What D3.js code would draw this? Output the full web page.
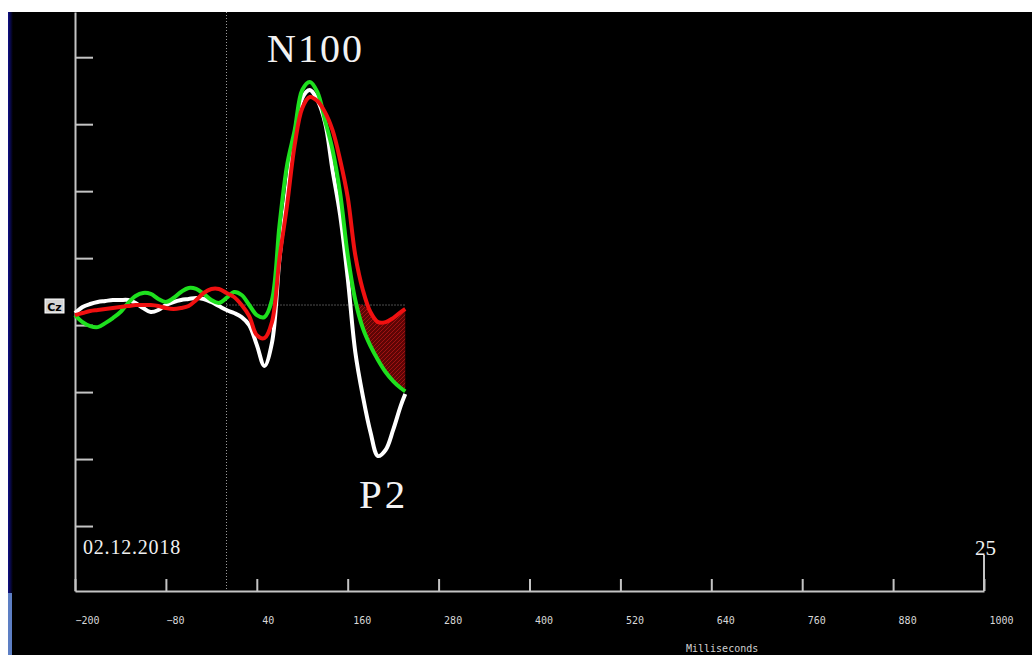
<!DOCTYPE html>
<html>
<head>
<meta charset="utf-8">
<script src="https://cdn.jsdelivr.net/npm/d3@7"></script>
<style>
  body { margin: 0; background: #fff; }
  svg { display: block; }
</style>
</head>
<body>
<div id="chart"></div>
<script>
// time points (ms) shared by all three traces
const times = [-200, -190, -180, -170, -160, -150, -140, -130, -120, -110, -100, -90, -80, -70, -60, -50, -40, -30, -20, -10,
  0, 10, 20, 30, 40, 50, 60, 70, 80, 90, 100, 110, 120, 130, 140, 150, 160, 170, 180, 190, 200, 210, 220, 230, 236];

// amplitude values (negative = up)
const whiteVals = [0.24, 0.06, -0.03, -0.09, -0.12, -0.15, -0.15, -0.15, -0.06, 0.09, 0.21, 0.15, 0, -0.09, -0.15, -0.18, -0.21, -0.18, -0.09, 0.03,
  0.15, 0.24, 0.36, 0.6, 1.19, 1.82, 1.13, -1.40, -3.28, -5.07, -6.18, -6.42, -6.12, -5.46, -4.03, -2.69, -0.81, 1.40, 2.72, 3.79, 4.51, 4.33, 3.73, 3.01, 2.66];
const greenVals = [0.30, 0.51, 0.63, 0.66, 0.54, 0.39, 0.21, -0.06, -0.27, -0.36, -0.33, -0.18, -0.09, -0.21, -0.39, -0.51, -0.48, -0.33, -0.15, -0.06,
  -0.21, -0.39, -0.30, 0, 0.30, 0.36, -0.15, -2.39, -4.18, -5.22, -6.42, -6.66, -6.36, -5.52, -4.63, -3.34, -1.49, -0.15, 0.69, 1.22, 1.64, 2.00, 2.27, 2.48, 2.58];
const redVals = [0.30, 0.24, 0.18, 0.15, 0.12, 0.09, 0.06, 0.03, 0, 0, 0, 0.03, 0.09, 0.12, 0.09, 0.03, -0.15, -0.36, -0.48, -0.48,
  -0.36, -0.24, 0, 0.33, 0.90, 0.99, 0.51, -1.40, -2.99, -4.78, -5.88, -6.21, -6.09, -5.76, -5.22, -4.33, -3.22, -1.49, -0.45, 0.21, 0.51, 0.51, 0.39, 0.21, 0.12];

const xTicks = [-200, -80, 40, 160, 280, 400, 520, 640, 760, 880, 1000];
const yTicks = [-7.4, -5.4, -3.4, -1.4, 0.6, 2.6, 4.6, 6.6];
const fillStart = 170; // shaded window start (ms)

const width = 1032, height = 655;

const svg = d3.select('#chart').append('svg')
  .attr('width', width)
  .attr('height', height);

// black panel + left strips
svg.append('rect').attr('x', 8).attr('y', 12).attr('width', width - 8).attr('height', height - 12).attr('fill', '#000');
const grad = svg.append('defs').append('linearGradient').attr('id', 'edge').attr('x1', 0).attr('x2', 1);
grad.append('stop').attr('offset', 0).attr('stop-color', '#10108a');
grad.append('stop').attr('offset', 1).attr('stop-color', '#000');
svg.append('rect').attr('x', 8).attr('y', 12).attr('width', 5).attr('height', 581).attr('fill', 'url(#edge)');
svg.append('rect').attr('x', 8).attr('y', 593).attr('width', 4).attr('height', 62).attr('fill', '#5d7fc4');

// hatch pattern for the shaded area
const pat = svg.select('defs').append('pattern')
  .attr('id', 'hatch')
  .attr('patternUnits', 'userSpaceOnUse')
  .attr('width', 4).attr('height', 4);
pat.append('rect').attr('width', 4).attr('height', 4).attr('fill', '#5e0505');
pat.append('path').attr('d', 'M0,4 L4,0').attr('stroke', '#a01212').attr('stroke-width', 1);

const x = d3.scaleLinear().domain([-200, 1000]).range([75, 984]);
const y = d3.scaleLinear().domain([-8.75, 8.54]).range([12, 591]);

// y axis (ticks pointing right, no labels)
const yAxis = svg.append('g')
  .attr('transform', `translate(${x(-200)},0)`)
  .call(d3.axisRight(y).tickValues(yTicks).tickSize(18).tickSizeOuter(0).tickFormat(''));
yAxis.select('.domain').attr('stroke', '#c4c4c4').attr('stroke-width', 2);
yAxis.selectAll('.tick line').attr('stroke', '#c4c4c4').attr('stroke-width', 2);

// x axis (ticks pointing up)
const xAxis = svg.append('g')
  .attr('transform', `translate(0,${y.range()[1]})`)
  .call(d3.axisBottom(x).tickValues(xTicks).tickSize(-12).tickSizeOuter(0).tickFormat(d3.format('d')));
xAxis.select('.domain').attr('stroke', '#c4c4c4').attr('stroke-width', 2);
xAxis.selectAll('.tick line').attr('stroke', '#c4c4c4').attr('stroke-width', 2);
xAxis.selectAll('.tick text')
  .attr('fill', '#d8d8d8')
  .attr('y', 33)
  .attr('dy', 0)
  .attr('x', d => d < 0 ? 0 : 5)
  .attr('text-anchor', 'start')
  .style('font-family', 'DejaVu Sans Mono, monospace')
  .style('font-size', '10px');

// right end marker
svg.append('line')
  .attr('x1', x(1000)).attr('x2', x(1000))
  .attr('y1', 555).attr('y2', y.range()[1])
  .attr('stroke', '#c4c4c4').attr('stroke-width', 2);

svg.append('text')
  .attr('x', 686).attr('y', 652)
  .attr('fill', '#d0d0d0')
  .style('font-family', 'DejaVu Sans Mono, monospace')
  .style('font-size', '10px')
  .text('Milliseconds');

// dotted reference lines
svg.append('line')
  .attr('x1', x(0)).attr('x2', x(0))
  .attr('y1', 12).attr('y2', y.range()[1])
  .attr('stroke', '#9a9a9a').attr('stroke-width', 1).attr('stroke-dasharray', '1,2');
svg.append('line')
  .attr('x1', x(0)).attr('x2', x(d3.max(times)))
  .attr('y1', y(0)).attr('y2', y(0))
  .attr('stroke', '#9a9a9a').attr('stroke-width', 1).attr('stroke-dasharray', '1,2');

// channel label
svg.append('rect').attr('x', 45).attr('y', 299).attr('width', 19).attr('height', 14)
  .attr('fill', '#d4d4d4').attr('stroke', '#fff').attr('stroke-width', 1);
svg.append('text')
  .attr('x', 54.5).attr('y', 310.5)
  .attr('text-anchor', 'middle')
  .attr('fill', '#000')
  .style('font-family', 'DejaVu Sans, sans-serif')
  .style('font-size', '11px')
  .style('font-weight', 'bold')
  .text('Cz');

// shaded area between red and green in the late window
const rows = times.map((t, i) => ({ t, w: whiteVals[i], g: greenVals[i], r: redVals[i] }));
const area = d3.area()
  .defined(d => d.t >= fillStart)
  .x(d => x(d.t))
  .y0(d => y(Math.max(d.r, 0)))
  .y1(d => y(Math.max(d.g, d.r, 0)))
  .curve(d3.curveCatmullRom.alpha(0.5));
svg.append('path').datum(rows).attr('d', area).attr('fill', 'url(#hatch)');

const line = key => d3.line()
  .x(d => x(d.t))
  .y(d => y(d[key]))
  .curve(d3.curveCatmullRom.alpha(0.5));

const traces = [
  { key: 'w', color: '#ffffff' },
  { key: 'g', color: '#1ee01e' },
  { key: 'r', color: '#f01010' }
];
traces.forEach(s => {
  svg.append('path')
    .datum(rows)
    .attr('d', line(s.key))
    .attr('fill', 'none')
    .attr('stroke', s.color)
    .attr('stroke-width', 4)
    .attr('stroke-linejoin', 'round');
});

// annotations
const serif = 'Liberation Serif, Times New Roman, serif';
svg.append('text').attr('x', 267).attr('y', 62).attr('fill', '#f2f2f2')
  .style('font-family', serif).style('font-size', '40px').style('letter-spacing', '2px').text('N100');
svg.append('text').attr('x', 359).attr('y', 508).attr('fill', '#f2f2f2')
  .style('font-family', serif).style('font-size', '41px').style('letter-spacing', '3px').text('P2');
svg.append('text').attr('x', 83).attr('y', 554).attr('fill', '#f0f0f0')
  .style('font-family', serif).style('font-size', '20px').style('letter-spacing', '0.8px').text('02.12.2018');
svg.append('text').attr('x', 975).attr('y', 555).attr('fill', '#f0f0f0')
  .style('font-family', serif).style('font-size', '21px').text('25');
</script>
</body>
</html>
